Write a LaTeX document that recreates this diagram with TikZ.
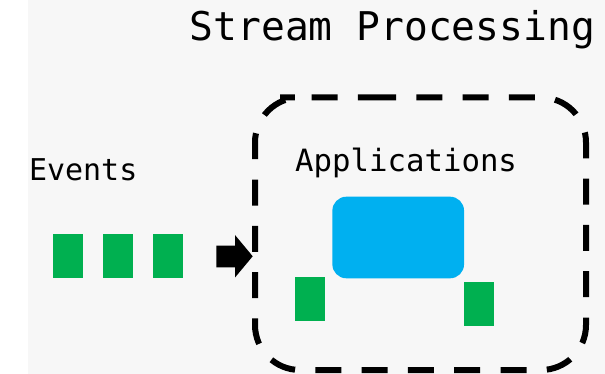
\documentclass[tikz,border=0pt]{standalone}
\usepackage{fontspec}
\newfontfamily\diagmono{DejaVu Sans Mono}
\definecolor{evgreen}{HTML}{00B050}
\definecolor{appblue}{HTML}{00B0F0}
\definecolor{canvas}{HTML}{F7F7F7}
\begin{document}
\begin{tikzpicture}[x=1pt,y=-1pt,
  event/.style={fill=evgreen, draw=none, inner sep=0pt, minimum width=30pt, minimum height=43.5pt, anchor=north west},
  appbox/.style={fill=appblue, draw=none, inner sep=0pt, rounded corners=14pt},
  frame/.style={draw=black, line width=6pt, dash pattern=on 26pt off 20.3pt, rounded corners=45pt},
  lbl/.style={inner sep=0pt, anchor=base west, text=black}]
\useasboundingbox (0,0) rectangle (605,374);
\fill[canvas] (28,0) rectangle (605,374);

% titles
\node[lbl, font=\diagmono\fontsize{39.6}{39.6}\selectfont] (title) at (189.5,40.5) {Stream Processing};
\node[lbl, font=\diagmono\fontsize{30}{30}\selectfont] (events) at (28.8,181) {Events};

% incoming events
\node[event] (e1) at (52.5,234.3) {};
\node[event] (e2) at (103,234.3) {};
\node[event] (e3) at (153,234.3) {};

% block arrow into the application frame
\coordinate (tip) at (252.7,256.3);
\fill[black] (216.4,245.7) -- (235,245.7) -- (235,235) -- (tip) -- (235,277.5) -- (235,267.3) -- (216.4,267.3) -- cycle;

% dashed application frame
\draw[frame] (325,97.5) -- (586,97.5) -- (586,370) -- (255,370) -- (255,97.5) -- cycle;
\node[lbl, font=\diagmono\fontsize{30.7}{30.7}\selectfont] (apps) at (295,171.7) {Applications};

% application and its events
\node[appbox, minimum width=131.7pt, minimum height=81.6pt] (app) at (398.2,237.5) {};
\node[event] (o1) at (295,277) {};
\node[event] (o2) at (464,282) {};
\end{tikzpicture}
\end{document}
